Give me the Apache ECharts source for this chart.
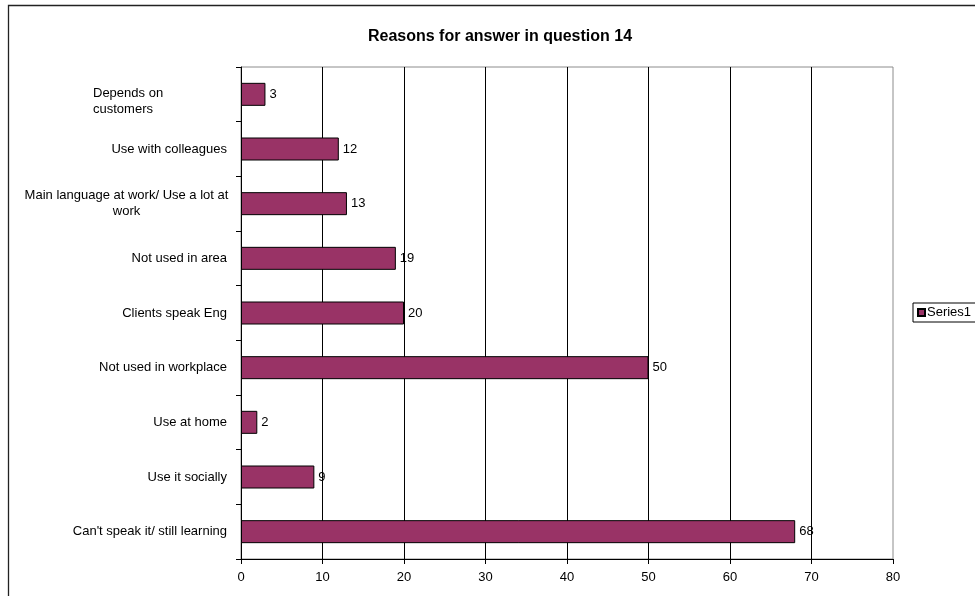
<!DOCTYPE html>
<html>
<head>
<meta charset="utf-8">
<script src="https://cdn.jsdelivr.net/npm/echarts@6/dist/echarts.min.js"></script>
<style>
  html, body { margin: 0; padding: 0; background: #fff; }
  #chart { width: 975px; height: 596px; }
</style>
</head>
<body>
<div id="chart"></div>
<script>
// Categories listed bottom-up, as on the vertical axis
var categories = [
  "Can't speak it/ still learning",
  "Use it socially",
  "Use at home",
  "Not used in workplace",
  "Clients speak Eng",
  "Not used in area",
  "Main language at work/ Use a lot at work",
  "Use with colleagues",
  "Depends on customers"
];
var series1 = [68, 9, 2, 50, 20, 19, 13, 12, 3];
var xTicks = [0, 10, 20, 30, 40, 50, 60, 70, 80];

var FONT = '"Liberation Sans", Arial, sans-serif';
var FS = 13;

// Wrapped labels keep their own line layout
function categoryLabel(v) {
  if (v === "Depends on customers") return "{e|}\n{l|Depends on}\n{l|customers}";
  if (v === "Main language at work/ Use a lot at work") return "{c|Main language at work/ Use a lot at}\n{c|work}";
  return v;
}

var chart = echarts.init(document.getElementById('chart'), null, { renderer: 'canvas' });
chart.setOption({
  animation: false,
  backgroundColor: '#ffffff',
  textStyle: { fontFamily: FONT },
  graphic: [{
    type: 'rect',
    shape: { x: 8.5, y: 5.5, width: 1100, height: 1100 },
    style: { fill: 'none', stroke: '#222', lineWidth: 1.3 },
    silent: true
  }],
  title: {
    text: 'Reasons for answer in question 14',
    left: 495, top: 24, textAlign: 'center',
    textStyle: { fontFamily: FONT, fontSize: 16, fontWeight: 'bold', color: '#000' }
  },
  legend: {
    data: ['Series1'],
    left: 913, top: 303,
    orient: 'vertical',
    padding: [3, 6, 3, 4],
    itemWidth: 7, itemHeight: 7, itemGap: 2,
    borderColor: '#000', borderWidth: 1,
    icon: 'rect',
    textStyle: { fontFamily: FONT, fontSize: FS, color: '#000', padding: [0, 0, 0, -3] }
  },
  grid: {
    left: 241, top: 67, right: 82, bottom: 37,
    show: true, borderColor: '#8c8c8c', borderWidth: 1, backgroundColor: '#fff'
  },
  xAxis: {
    type: 'value',
    min: xTicks[0], max: xTicks[xTicks.length - 1], interval: 10,
    axisLine: { show: true, lineStyle: { color: '#000', width: 1 } },
    axisTick: { show: true, length: 5, lineStyle: { color: '#000' } },
    axisLabel: { fontFamily: FONT, fontSize: FS, color: '#000', margin: 12 },
    splitLine: { show: true, showMaxLine: false, lineStyle: { color: '#000', width: 1 } }
  },
  yAxis: {
    type: 'category',
    data: categories,
    axisLine: { show: true, lineStyle: { color: '#000', width: 1 } },
    axisTick: { show: true, length: 5, lineStyle: { color: '#000' } },
    axisLabel: {
      fontFamily: FONT, fontSize: FS, color: '#000', margin: 14, lineHeight: 16,
      formatter: categoryLabel,
      rich: {
        e: { fontSize: 1, lineHeight: 14 },
        l: { fontFamily: FONT, fontSize: FS, color: '#000', width: 134, align: 'left', lineHeight: 16 },
        c: { fontFamily: FONT, fontSize: FS, color: '#000', width: 201, align: 'center', lineHeight: 16 }
      }
    },
    splitLine: { show: false }
  },
  series: [{
    name: 'Series1',
    type: 'bar',
    data: series1,
    barWidth: 23,
    itemStyle: { color: '#993366', borderColor: '#000', borderWidth: 1 },
    label: {
      show: true, position: 'right', distance: 4,
      fontFamily: FONT, fontSize: FS, color: '#000'
    }
  }]
});
</script>
</body>
</html>
